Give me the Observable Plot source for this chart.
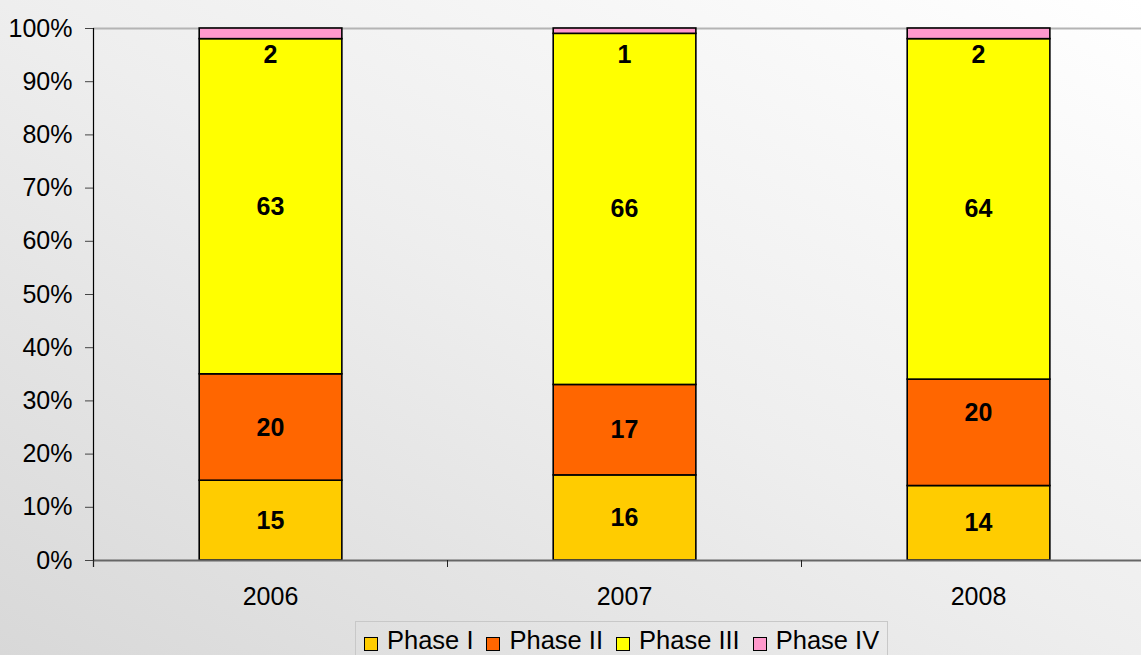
<!DOCTYPE html>
<html>
<head>
<meta charset="utf-8">
<script src="https://cdn.jsdelivr.net/npm/d3@7"></script>
<script src="https://cdn.jsdelivr.net/npm/@observablehq/plot@0.6"></script>
<style>
  html, body { margin: 0; padding: 0; }
  #wrap {
    position: relative; width: 1141px; height: 655px; overflow: hidden;
    background: linear-gradient(to bottom left, #ffffff 0%, #eeeeee 50%, #d8d8d8 100%);
    font-family: "Liberation Sans", Arial, sans-serif;
  }
  #chart svg { background: transparent !important; display: block; }
  #legend {
    position: absolute; left: 355px; top: 621px; width: 533px; height: 50px;
    border: 1px solid #c8c8c8; box-sizing: border-box;
    white-space: nowrap;
    font-size: 25.5px; line-height: 25px; color: #000;
    padding: 6px 0 0 8px;
  }
  .item { display: inline-block; margin-right: 13px; }
  .sw { display: inline-block; width: 12px; height: 12px; border: 1.5px solid #000; margin-right: 9px; vertical-align: -2px; }
</style>
</head>
<body>
<div id="wrap">
  <div id="chart"></div>
  <div id="legend"></div>
</div>
<script>
const years = ["2006", "2007", "2008"];
const phases = ["Phase I", "Phase II", "Phase III", "Phase IV"];
const colors = ["#FFCC00", "#FF6600", "#FFFF00", "#FF99CC"];
const phaseI   = [15, 16, 14];
const phaseII  = [20, 17, 20];
const phaseIII = [63, 66, 64];
const phaseIV  = [2, 1, 2];
const yTicks = [0, 10, 20, 30, 40, 50, 60, 70, 80, 90, 100];

const series = [phaseI, phaseII, phaseIII, phaseIV];
const rows = [];
years.forEach((yr, i) => {
  let base = 0;
  series.forEach((s, k) => {
    rows.push({year: yr, idx: i, phase: phases[k], k, value: s[i], y1: base, y2: base + s[i]});
    base += s[i];
  });
});

const midRows = rows.filter(d => d.k < 3 && !(d.year === "2008" && d.k === 1));
const shiftRows = rows.filter(d => d.year === "2008" && d.k === 1);
const topRows = rows.filter(d => d.k === 3);

const chart = Plot.plot({
  width: 1141,
  height: 615,
  marginLeft: 93,
  marginTop: 28,
  marginRight: 0,
  marginBottom: 55,
  style: {fontFamily: "'Liberation Sans', Arial, sans-serif", fontSize: "25px", background: "transparent", color: "#000", overflow: "visible"},
  x: {domain: [0, 3], range: [93, 1155], axis: null},
  y: {domain: [0, 100], axis: null},
  color: {domain: phases, range: colors},
  marks: [
    Plot.ruleY([100], {stroke: "#b4b4b4", strokeWidth: 2}),
    Plot.rect(rows, {
      x1: d => d.idx + 0.3, x2: d => d.idx + 0.703,
      y1: "y1", y2: "y2",
      fill: "phase", stroke: "#000", strokeWidth: 1.6
    }),
    Plot.ruleY([0], {stroke: "#666", strokeWidth: 2}),
    Plot.ruleX([0], {stroke: "#000", strokeWidth: 1.2, insetBottom: -7}),
    Plot.axisY({ticks: yTicks, tickFormat: d => d + "%", tickSize: 8, tickPadding: 13, stroke: "#444", fontSize: 25, fill: "#000"}),
    Plot.axisX({ticks: [0, 1, 2, 3], tickFormat: () => "", tickSize: 7, stroke: "#222"}),
    Plot.text(years, {x: (d, i) => i + 0.5, y: () => 0, text: d => d, dy: 36, fontSize: 25, fill: "#000"}),
    Plot.text(midRows, {x: d => d.idx + 0.5, y: d => (d.y1 + d.y2) / 2, text: d => String(d.value), fontWeight: "bold", fontSize: 25, fill: "#000"}),
    Plot.text(shiftRows, {x: d => d.idx + 0.5, y: d => (d.y1 + d.y2) / 2, text: d => String(d.value), fontWeight: "bold", fontSize: 25, fill: "#000", dy: -20}),
    Plot.text(topRows, {x: d => d.idx + 0.5, y: "y2", text: d => String(d.value), fontWeight: "bold", fontSize: 25, fill: "#000", dy: 26})
  ]
});
document.getElementById("chart").appendChild(chart);

const legend = document.getElementById("legend");
phases.forEach((p, k) => {
  const it = document.createElement("span");
  it.className = "item";
  const sw = document.createElement("span");
  sw.className = "sw";
  sw.style.background = colors[k];
  const t = document.createElement("span");
  t.textContent = p;
  it.appendChild(sw); it.appendChild(t);
  legend.appendChild(it);
});
</script>
</body>
</html>
